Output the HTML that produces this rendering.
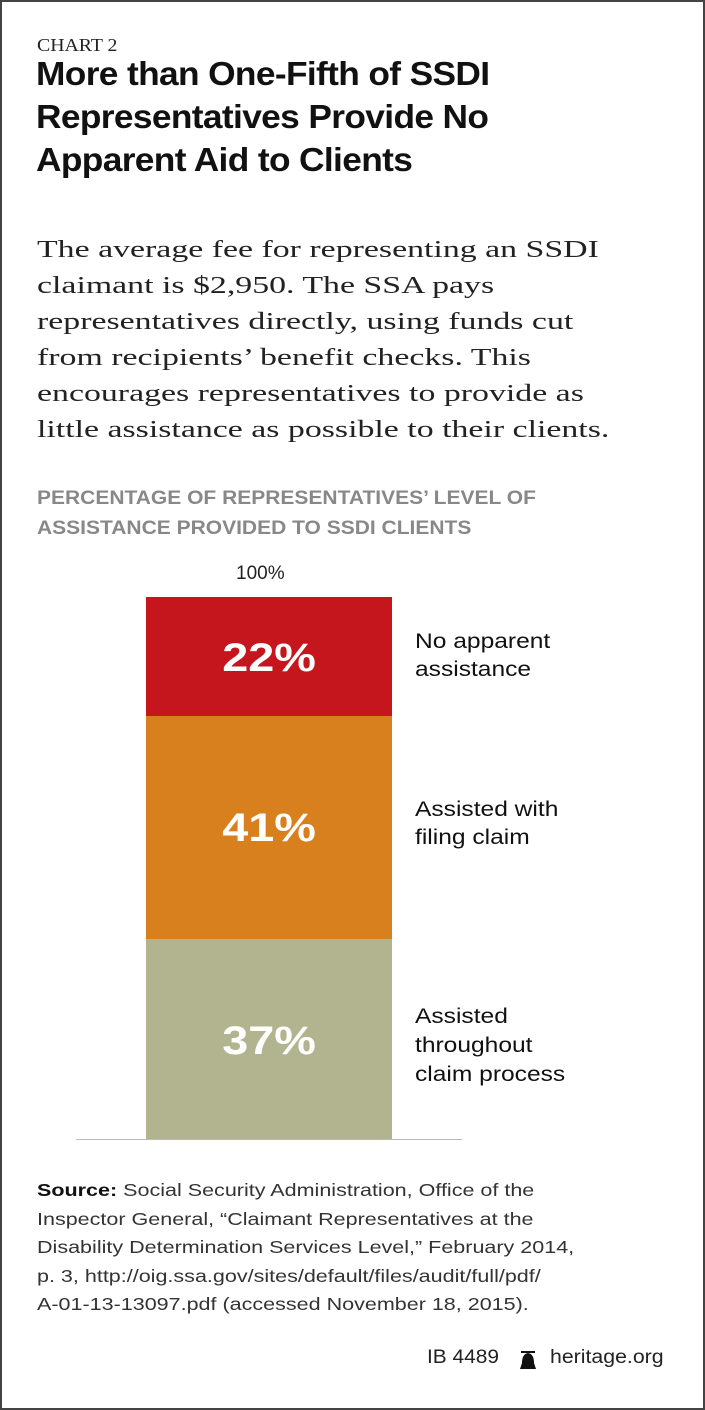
<!DOCTYPE html>
<html><head><style>
body{margin:0;width:705px;height:1410px;position:relative;background:#fff;overflow:hidden}
.frame{position:absolute;left:0;top:0;width:701px;height:1406px;border:2px solid #444}
.a{position:absolute;white-space:nowrap;transform-origin:0 0}
.s{font-family:"Liberation Sans",sans-serif}
.f{font-family:"Liberation Serif",serif}
</style></head><body>
<div class="frame"></div>
<div class="a f" style="left:37px;top:35px;font-size:18px;color:#222;transform:scaleX(1.1)">CHART 2</div>
<div class="a s" style="left:36px;top:52px;font-size:33px;font-weight:bold;line-height:43px;color:#111;letter-spacing:-0.6px;transform:scaleX(1.07)">More than One-Fifth of SSDI<br>Representatives Provide No<br>Apparent Aid to Clients</div>
<div class="a f" style="left:37px;top:232px;font-size:24px;line-height:36px;color:#222;transform:scaleX(1.41)">The average fee for representing an SSDI<br>claimant is $2,950. The SSA pays<br>representatives directly, using funds cut<br>from recipients’ benefit checks. This<br>encourages representatives to provide as<br>little assistance as possible to their clients.</div>
<div class="a s" style="left:37px;top:484px;font-size:19px;line-height:30px;font-weight:bold;color:#888;transform:scaleX(1.105)">PERCENTAGE OF REPRESENTATIVES’ LEVEL OF<br>ASSISTANCE PROVIDED TO SSDI CLIENTS</div>
<div class="a s" style="left:236px;top:563px;font-size:19px;color:#222">100%</div>
<div class="a" style="left:146px;top:597px;width:246px;height:119px;background:#c4161c"></div>
<div class="a" style="left:146px;top:716px;width:246px;height:223px;background:#d8801d"></div>
<div class="a" style="left:146px;top:939px;width:246px;height:201px;background:#b1b48f"></div>
<div class="a" style="left:76px;top:1139px;width:386px;height:1px;background:#bbb"></div>
<div class="a s" style="left:146px;width:246px;text-align:center;top:636px;font-size:40px;font-weight:bold;color:#fff"><span style="display:inline-block;transform:scaleX(1.17)">22%</span></div>
<div class="a s" style="left:146px;width:246px;text-align:center;top:806px;font-size:40px;font-weight:bold;color:#fff"><span style="display:inline-block;transform:scaleX(1.17)">41%</span></div>
<div class="a s" style="left:146px;width:246px;text-align:center;top:1019px;font-size:40px;font-weight:bold;color:#fff"><span style="display:inline-block;transform:scaleX(1.17)">37%</span></div>
<div class="a s" style="left:415px;top:628px;font-size:21px;line-height:28px;color:#111;transform:scaleX(1.17)">No apparent<br>assistance</div>
<div class="a s" style="left:415px;top:796px;font-size:21px;line-height:28px;color:#111;transform:scaleX(1.17)">Assisted with<br>filing claim</div>
<div class="a s" style="left:415px;top:1002px;font-size:21px;line-height:29px;color:#111;transform:scaleX(1.17)">Assisted<br>throughout<br>claim process</div>
<div class="a s" style="left:37px;top:1176px;font-size:17.5px;line-height:28.5px;color:#333;transform:scaleX(1.23)"><b style="color:#111">Source:</b> Social Security Administration, Office of the<br>Inspector General, “Claimant Representatives at the<br>Disability Determination Services Level,” February 2014,<br>p. 3, http://oig.ssa.gov/sites/default/files/audit/full/pdf/<br>A-01-13-13097.pdf (accessed November 18, 2015).</div>
<div class="a s" style="left:427px;top:1347px;font-size:19px;color:#222;transform:scaleX(1.1)">IB 4489</div>
<svg class="a" style="left:518px;top:1349px" width="20" height="22"><path d="M2 20 L18 20 L16 14 Q16 5 10 4 Q4 5 4 14 Z" fill="#111"/><rect x="3" y="2" width="14" height="2" fill="#111"/></svg>
<div class="a s" style="left:550px;top:1347px;font-size:19px;color:#222;transform:scaleX(1.12)">heritage.org</div>
</body></html>
